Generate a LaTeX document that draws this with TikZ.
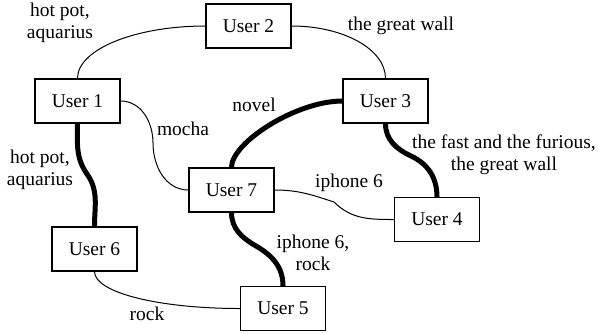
\documentclass[tikz,border=0pt]{standalone}
\usepackage{fontspec}
\setmainfont{Liberation Serif}
\begin{document}
\begin{tikzpicture}[x=0.5pt,y=-0.5pt,
  user/.style={draw,line width=0.6pt,minimum width=42.5pt,minimum height=22pt,inner sep=0pt,fill=white},
  lbl/.style={inner sep=0pt,align=center},
  weak/.style={line width=0.5pt},
  strong/.style={line width=2.5pt},
  every node/.style={font=\fontsize{9.75}{11}\selectfont}]
\useasboundingbox (0,0) rectangle (598,333);

% users
\node[user] (u1) at (77.5,101) {User 1};
\node[user] (u2) at (248.5,26) {User 2};
\node[user] (u3) at (385.5,101) {User 3};
\node[user] (u4) at (437,219.5) {User 4};
\node[user] (u5) at (283,308.5) {User 5};
\node[user] (u6) at (94.5,249) {User 6};
\node[user] (u7) at (231.5,190) {User 7};

% bend points of the S-shaped links
\coordinate (m16) at (87,174);
\coordinate (m17) at (153,143);
\coordinate (m34) at (411,156);
\coordinate (m74) at (334,202);
\coordinate (m75) at (256,246);

% shared interests
\draw[weak] (u1.north) to[out=90,in=180,out distance=14.6pt,in distance=35pt] (u2.west);
\draw[weak] (u2.east) to[out=0,in=90,out distance=25.8pt,in distance=14.6pt] (u3.north);
\draw[weak] (u1.east) to[out=0,in=90] (m17) to[out=-90,in=180] (u7.west);
\draw[strong] (u3.west) to[out=180,in=90,out distance=23pt,in distance=12.5pt] (u7.north);
\draw[strong] (u3.south) to[out=-90,in=155] (m34) to[out=-25,in=90] (u4.north);
\draw[weak] (u7.east) to[out=0,in=162] (m74) to[out=-45,in=180] (u4.west);
\draw[strong] (u1.south) to[out=-90,in=125] (m16) to[out=-55,in=90] (u6.north);
\draw[strong] (u7.south) to[out=-90,in=150] (m75) to[out=-30,in=90] (u5.north);
\draw[weak] (u6.south) to[out=-90,in=180,out distance=10.5pt,in distance=40.6pt] (u5.west);

% edge labels
\node[lbl] (l12) at (60,23) {hot pot,\\aquarius};
\node[lbl] (l23) at (401,26) {the great wall};
\node[lbl] (l17) at (183,129) {mocha};
\node[lbl] (l37) at (254,105) {novel};
\node[lbl] (l16) at (40,170) {hot pot,\\aquarius};
\node[lbl] (l34) at (504,155) {the fast and the furious,\\the great wall};
\node[lbl] (l74) at (349,183) {iphone 6};
\node[lbl] (l75) at (313,253) {iphone 6,\\rock};
\node[lbl] (l65) at (147,314) {rock};
\end{tikzpicture}
\end{document}
